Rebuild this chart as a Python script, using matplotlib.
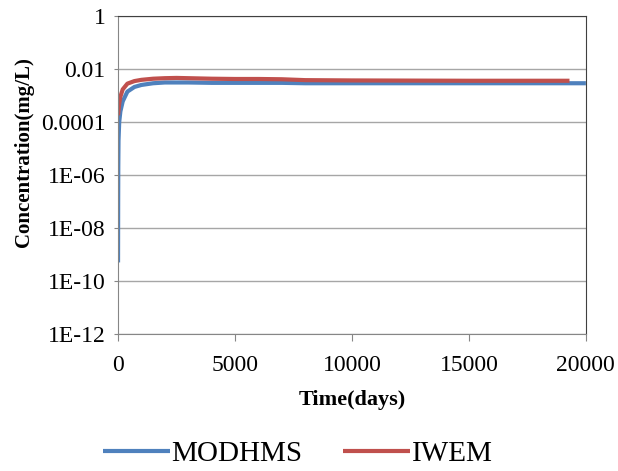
import numpy as np
import matplotlib.pyplot as plt
from matplotlib.ticker import FixedLocator, FixedFormatter

# values
modhms_t = [0, 5, 10, 20, 50, 100, 200, 400, 700, 1000, 1500, 2000, 3000, 4000,
            5000, 7000, 8000, 10000, 15000, 20000]
modhms_c = [5e-10, 1e-7, 2e-6, 2e-5, 1e-4, 2.5e-4, 6e-4, 1.4e-3, 2.1e-3, 2.5e-3,
            2.9e-3, 3.1e-3, 3.1e-3, 3.0e-3, 3.0e-3, 3.0e-3, 2.9e-3, 2.9e-3, 2.9e-3, 2.9e-3]

iwem_t = [0, 50, 100, 200, 400, 700, 1000, 1500, 2000, 2500, 3000, 4000, 5000,
          6000, 7000, 8000, 10000, 15000, 19300]
iwem_c = [1.8e-4, 5e-4, 9e-4, 1.7e-3, 2.8e-3, 3.5e-3, 3.9e-3, 4.3e-3, 4.5e-3, 4.6e-3,
          4.5e-3, 4.3e-3, 4.2e-3, 4.2e-3, 4.1e-3, 3.8e-3, 3.7e-3, 3.6e-3, 3.6e-3]

x_ticks = [0, 5000, 10000, 15000, 20000]
y_ticks = [1e-12, 1e-10, 1e-8, 1e-6, 1e-4, 1e-2, 1]
y_labels = ['1E-12', '1E-10', '1E-08', '1E-06', '0.0001', '0.01', '1']

plt.rcParams['font.family'] = ['Liberation Serif', 'DejaVu Serif']

fig = plt.figure(figsize=(6.18, 4.71), dpi=100)
ax = fig.add_axes([0.191, 0.291, 0.757, 0.675])

ax.plot(modhms_t, modhms_c, color='#4F81BD', lw=3, label='MODHMS', solid_capstyle='butt')
ax.plot(iwem_t, iwem_c, color='#C0504D', lw=3, label='IWEM', solid_capstyle='butt')

ax.set_yscale('log')
ax.set_ylim(1e-12, 1)
ax.set_xlim(0, 20000)
ax.yaxis.set_major_locator(FixedLocator(y_ticks))
ax.yaxis.set_major_formatter(FixedFormatter(y_labels))
ax.yaxis.set_minor_locator(FixedLocator([]))
ax.set_xticks(x_ticks)
ax.set_xticklabels([str(v) for v in x_ticks])

ax.grid(axis='y', color='#A6A6A6', lw=1)
ax.set_axisbelow(True)
for s in ['left', 'bottom']:
    ax.spines[s].set_color('#868686')
for s in ['top', 'right']:
    ax.spines[s].set_color('#404040')
ax.tick_params(axis='x', colors='#868686', length=5, labelcolor='black', labelsize=17, pad=10)
ax.tick_params(axis='y', colors='#868686', length=3, labelcolor='black', labelsize=17, pad=6)

ax.set_xlabel('Time(days)', fontsize=16, fontweight='bold', labelpad=10)
ax.set_ylabel('Concentration(mg/L)', fontsize=15, fontweight='bold')
ax.yaxis.set_label_coords(-0.18, 0.572)

fig.legend(loc='center', bbox_to_anchor=(0.482, 0.036), ncol=2, frameon=False,
           fontsize=21, handlelength=2.3, handletextpad=0.05, columnspacing=1.4)

fig.savefig('out.png', dpi=100)
